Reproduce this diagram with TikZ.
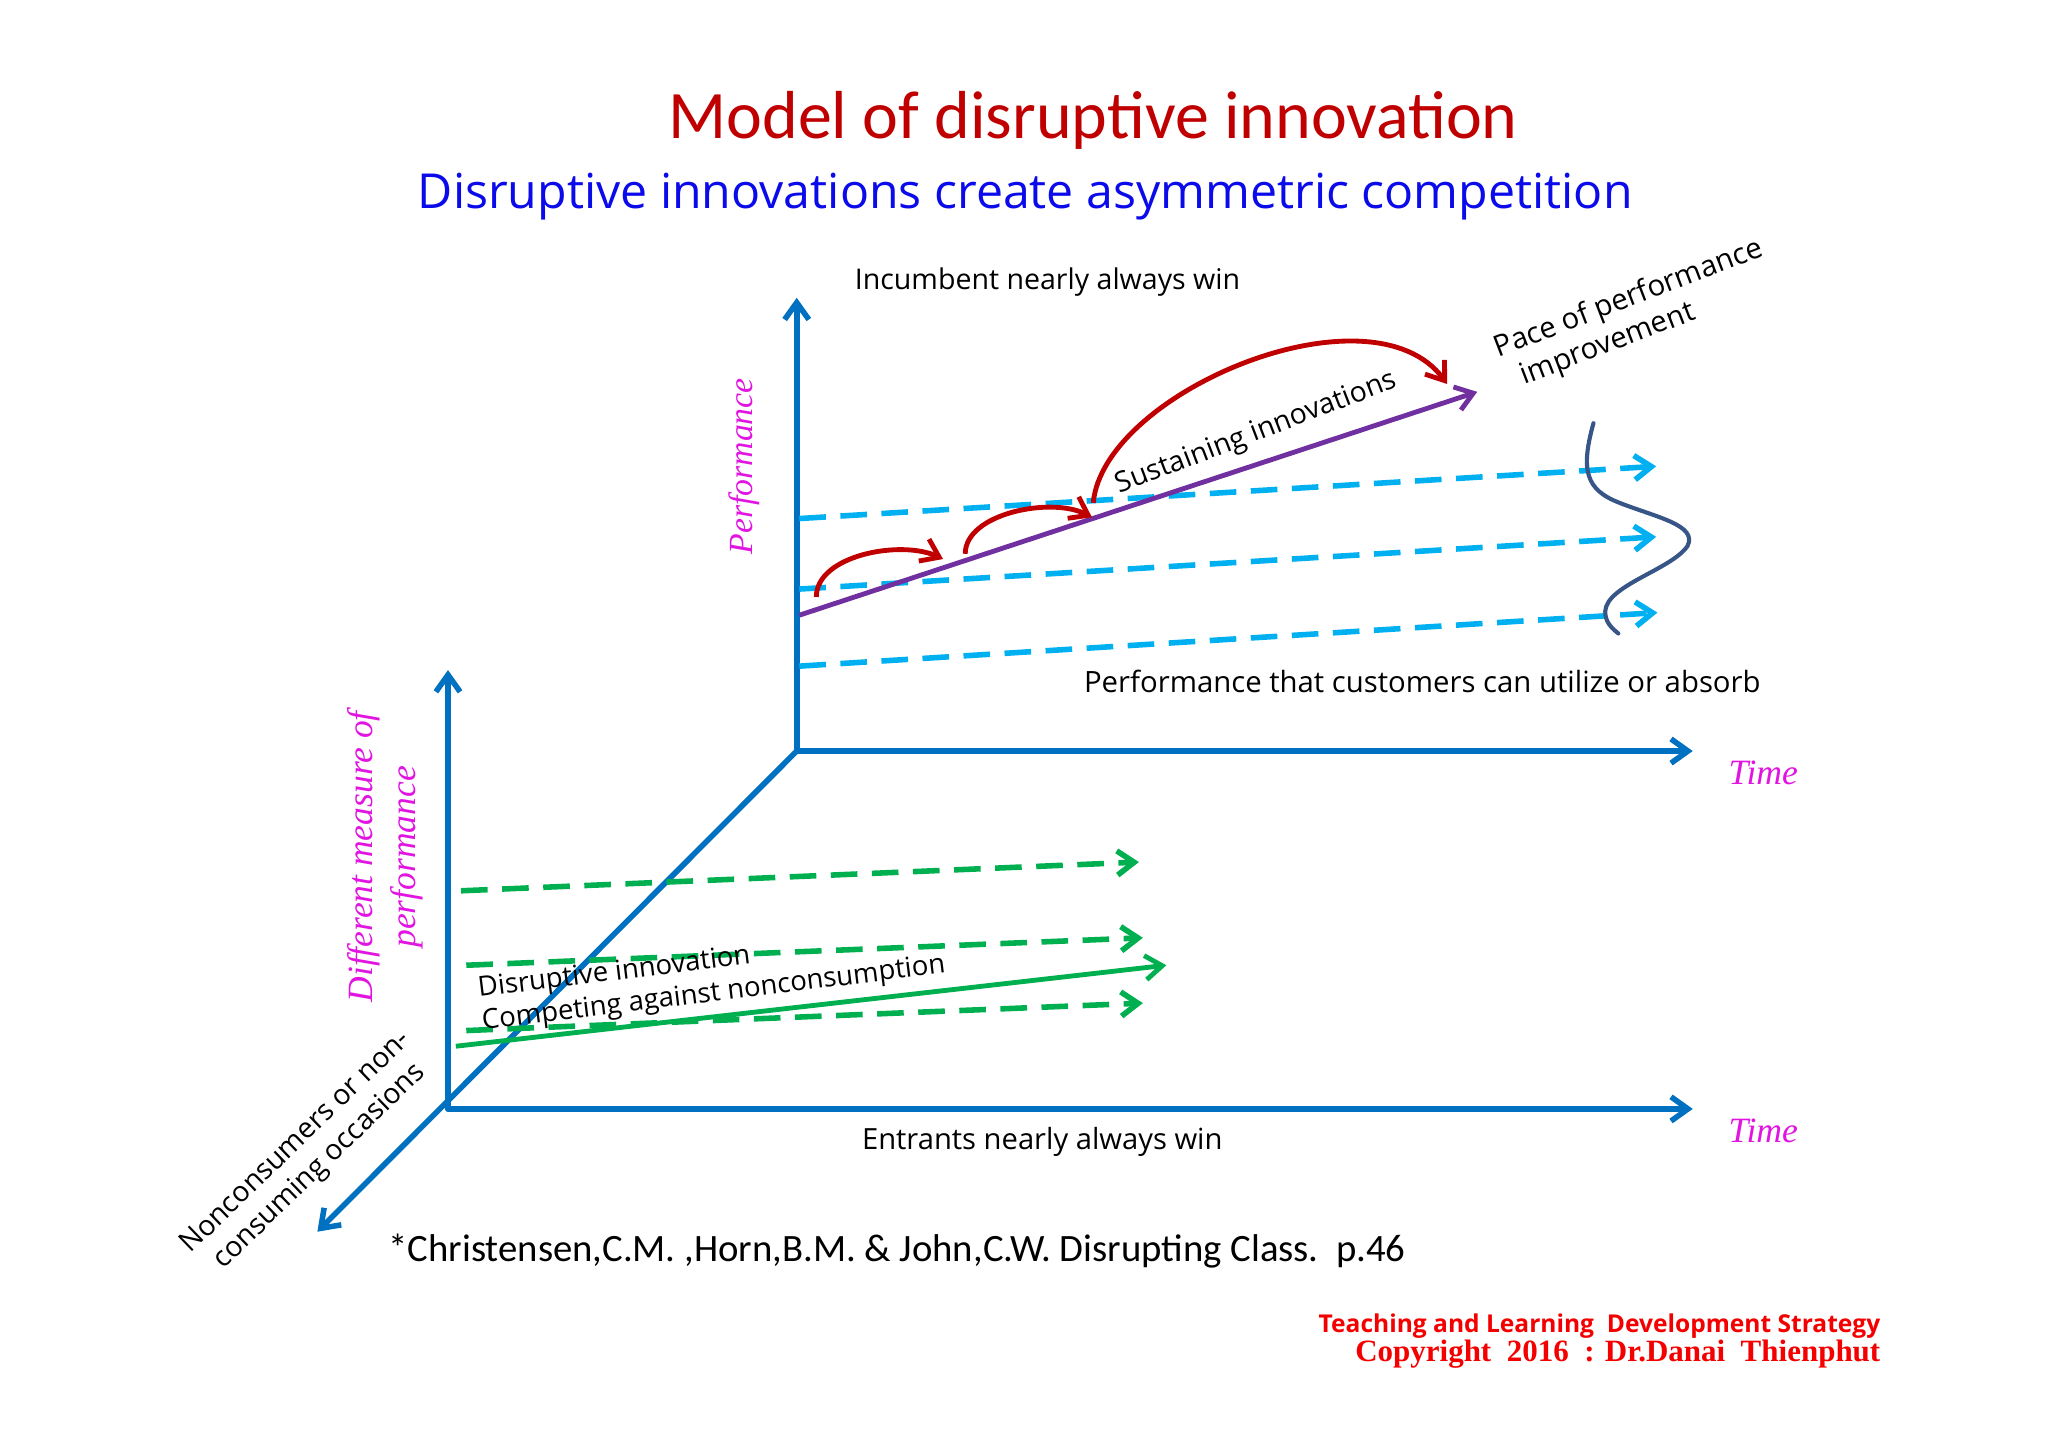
\documentclass[tikz,border=0pt]{standalone}
\usepackage{fontspec}
\usepackage{graphicx}
\setmainfont{Carlito}
\newfontfamily\comicf{Open Sans}
\newfontfamily\handf{Liberation Serif}
\newfontfamily\coopf{Liberation Serif}
\usetikzlibrary{arrows.meta}
\definecolor{titlered}{RGB}{192,0,0}
\definecolor{subblue}{RGB}{10,10,235}
\definecolor{handmag}{RGB}{225,20,225}
\definecolor{footred}{RGB}{245,0,0}
\definecolor{axisblue}{RGB}{0,112,192}
\definecolor{cyanline}{RGB}{0,176,240}
\definecolor{greenline}{RGB}{0,176,80}
\definecolor{purpleline}{RGB}{112,48,160}
\definecolor{arcred}{RGB}{192,0,0}
\definecolor{wavecol}{RGB}{55,85,135}
\newcommand{\fw}[2]{\resizebox{\dimexpr 0.54pt*#1\relax}{!}{#2}}
\begin{document}
\begin{tikzpicture}[x=0.54pt,y=-0.54pt,
  tip/.style={-{Straight Barb[length=7pt,width=10pt]}},
  axis/.style={draw=axisblue,line width=2.3pt,line cap=round,tip},
  cyandash/.style={draw=cyanline,line width=2.3pt,dash pattern=on 11pt off 6pt,tip},
  greendash/.style={draw=greenline,line width=2.3pt,dash pattern=on 11pt off 6pt,tip},
  greensolid/.style={draw=greenline,line width=2pt,tip},
  purplearrow/.style={draw=purpleline,line width=2pt,tip},
  redarc/.style={draw=arcred,line width=2pt,tip},
  wave/.style={draw=wavecol,line width=1.7pt,line cap=round},
  lbl/.style={inner sep=0pt,anchor=base},
  rlbl/.style={inner sep=0pt}]
\useasboundingbox (0,0) rectangle (1568,1109);
\fill[white] (0,0) rectangle (1568,1109);

% titles
\node[lbl,text=titlered] (title) at (837,106) {\fw{650}{Model of disruptive innovation}};
\node[lbl,text=subblue] (subtitle) at (785,160) {\fw{930}{\comicf Disruptive innovations create asymmetric competition}};

% axes coordinates
\coordinate (O1) at (610,575);
\coordinate (O2) at (343,849);
\coordinate (V1) at (610,228);
\coordinate (H1) at (1296,575);
\coordinate (V2) at (343,513);
\coordinate (H2) at (1296,849);
\coordinate (D) at (243,943);

\draw[axis] (O1) -- (V1);
\draw[axis] (O1) -- (H1);
\draw[axis] (O2) -- (V2);
\draw[axis] (O2) -- (H2);
\draw[axis] (O1) -- (D);

% upper plot lines
\coordinate (c1s) at (612,397); \coordinate (c1e) at (1268,357);
\coordinate (c2s) at (612,451); \coordinate (c2e) at (1268,411);
\coordinate (c3s) at (612,510); \coordinate (c3e) at (1269,469);
\draw[cyandash] (c1s) -- (c1e);
\draw[cyandash] (c2s) -- (c2e);
\draw[cyandash] (c3s) -- (c3e);

\coordinate (ps) at (612,471); \coordinate (pe) at (1131,300);
\draw[purplearrow] (ps) -- (pe);

\coordinate (r1s) at (625,457); \coordinate (r1e) at (722,428);
\coordinate (r2s) at (739,424); \coordinate (r2e) at (836,396);
\coordinate (r3s) at (837,385); \coordinate (r3e) at (1108,294);
\draw[redarc] (r1s) .. controls (625,425) and (690,413) .. (r1e);
\draw[redarc] (r2s) .. controls (739,393) and (805,380) .. (r2e);
\draw[redarc] (r3s) .. controls (845,300) and (1050,215) .. (r3e);

\coordinate (w1) at (1220,324); \coordinate (w2) at (1239,485);
\draw[wave] (w1) .. controls (1210,360) and (1214,375) .. (1240,385)
  .. controls (1268,396) and (1300,402) .. (1292,418)
  .. controls (1280,436) and (1230,448) .. (1229,468)
  .. controls (1229,476) and (1233,480) .. (w2);

% lower plot lines
\coordinate (g1s) at (353,682); \coordinate (g1e) at (872,660);
\coordinate (g2s) at (357,739); \coordinate (g2e) at (875,718);
\coordinate (g3s) at (357,789); \coordinate (g3e) at (875,768);
\draw[greendash] (g1s) -- (g1e);
\draw[greendash] (g2s) -- (g2e);
\draw[greendash] (g3s) -- (g3e);
\coordinate (gs) at (349,801); \coordinate (ge) at (893,739);
\draw[greensolid] (gs) -- (ge);

% labels upper
\node[lbl] (incumbent) at (802,222) {\fw{295}{\comicf Incumbent nearly always win}};
\node[rlbl,rotate=90,text=handmag] (perf) at (570,357) {\fw{135}{\handf\itshape Performance}};
\node[lbl,text=handmag] (time1) at (1350,601) {\fw{53}{\handf\itshape Time}};
\node[rlbl,rotate=21] (sustain) at (962,332) {\fw{228}{\comicf Sustaining innovations}};
\node[rlbl,rotate=21] (pace) at (1252,242) {\fw{218}{\comicf\begin{tabular}{@{}l@{}}Pace of performance\\\hspace{0.5em}improvement\end{tabular}}};
\node[lbl] (absorb) at (1089,530) {\fw{518}{\comicf Performance that customers can utilize or absorb}};

% labels lower
\node[lbl] (entrants) at (798,880) {\fw{276}{\comicf Entrants nearly always win}};
\node[lbl,text=handmag] (time2) at (1350,875) {\fw{53}{\handf\itshape Time}};
\node[rlbl,rotate=90,text=handmag] (diffm) at (295,656) {\fw{223}{\handf\itshape\begin{tabular}{@{}c@{}}Different measure of\\performance\end{tabular}}};
\node[rlbl,rotate=44] (noncons) at (236,884) {\fw{235}{\comicf\begin{tabular}{@{}c@{}}Nonconsumers or non-\\consuming occasions\end{tabular}}};
\node[rlbl,rotate=7] (disrupt) at (545,749) {\fw{357}{\comicf\begin{tabular}{@{}l@{}}Disruptive innovation\\Competing against nonconsumption\end{tabular}}};

% citation and footer
\node[lbl,anchor=base west] (cite) at (297,966) {\fw{779}{*Christensen,C.M. ,Horn,B.M. \& John,C.W. Disrupting Class.\ \ p.46}};
\node[lbl,anchor=base east,text=footred] (foot1) at (1440,1020) {\fw{430}{\comicf\bfseries Teaching and Learning\ \ Development Strategy}};
\node[lbl,anchor=base east,text=footred] (foot2) at (1440,1042) {\fw{402}{\coopf\bfseries Copyright\ \ 2016\ \ : Dr.Danai\ \ Thienphut}};
\end{tikzpicture}
\end{document}
